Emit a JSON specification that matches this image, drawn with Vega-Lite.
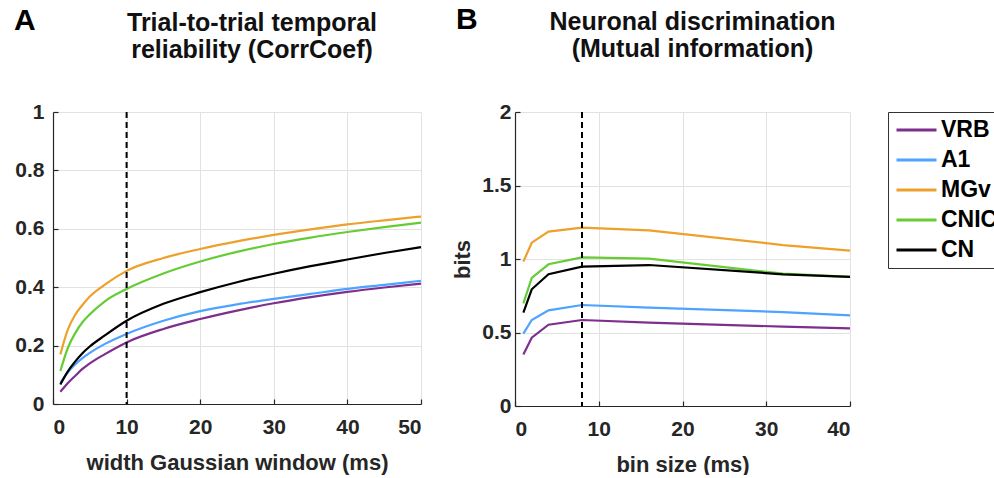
{
  "$schema": "https://vega.github.io/schema/vega-lite/v6.json",
  "background": "white",
  "padding": {"left": 13, "top": 4, "right": 0, "bottom": 0},
  "spacing": 25,
  "datasets": {
    "corr": [
      {"region": "VRB", "x": 1, "y": 0.042}, {"region": "VRB", "x": 2, "y": 0.071}, {"region": "VRB", "x": 3, "y": 0.096}, {"region": "VRB", "x": 4, "y": 0.12}, {"region": "VRB", "x": 5, "y": 0.139}, {"region": "VRB", "x": 7, "y": 0.17}, {"region": "VRB", "x": 10, "y": 0.211}, {"region": "VRB", "x": 15, "y": 0.257}, {"region": "VRB", "x": 20, "y": 0.291}, {"region": "VRB", "x": 25, "y": 0.32}, {"region": "VRB", "x": 30, "y": 0.345}, {"region": "VRB", "x": 35, "y": 0.366}, {"region": "VRB", "x": 40, "y": 0.384}, {"region": "VRB", "x": 45, "y": 0.399}, {"region": "VRB", "x": 50, "y": 0.412},
      {"region": "A1", "x": 1, "y": 0.072}, {"region": "A1", "x": 2, "y": 0.108}, {"region": "A1", "x": 3, "y": 0.135}, {"region": "A1", "x": 4, "y": 0.157}, {"region": "A1", "x": 5, "y": 0.175}, {"region": "A1", "x": 7, "y": 0.205}, {"region": "A1", "x": 10, "y": 0.24}, {"region": "A1", "x": 15, "y": 0.285}, {"region": "A1", "x": 20, "y": 0.318}, {"region": "A1", "x": 25, "y": 0.341}, {"region": "A1", "x": 30, "y": 0.36}, {"region": "A1", "x": 35, "y": 0.377}, {"region": "A1", "x": 40, "y": 0.394}, {"region": "A1", "x": 45, "y": 0.408}, {"region": "A1", "x": 50, "y": 0.422},
      {"region": "MGv", "x": 1, "y": 0.17}, {"region": "MGv", "x": 2, "y": 0.254}, {"region": "MGv", "x": 3, "y": 0.305}, {"region": "MGv", "x": 4, "y": 0.339}, {"region": "MGv", "x": 5, "y": 0.368}, {"region": "MGv", "x": 7, "y": 0.408}, {"region": "MGv", "x": 10, "y": 0.456}, {"region": "MGv", "x": 15, "y": 0.5}, {"region": "MGv", "x": 20, "y": 0.531}, {"region": "MGv", "x": 25, "y": 0.557}, {"region": "MGv", "x": 30, "y": 0.579}, {"region": "MGv", "x": 35, "y": 0.598}, {"region": "MGv", "x": 40, "y": 0.615}, {"region": "MGv", "x": 45, "y": 0.629}, {"region": "MGv", "x": 50, "y": 0.642},
      {"region": "CNIC", "x": 1, "y": 0.113}, {"region": "CNIC", "x": 2, "y": 0.191}, {"region": "CNIC", "x": 3, "y": 0.242}, {"region": "CNIC", "x": 4, "y": 0.28}, {"region": "CNIC", "x": 5, "y": 0.307}, {"region": "CNIC", "x": 7, "y": 0.351}, {"region": "CNIC", "x": 10, "y": 0.394}, {"region": "CNIC", "x": 15, "y": 0.447}, {"region": "CNIC", "x": 20, "y": 0.488}, {"region": "CNIC", "x": 25, "y": 0.521}, {"region": "CNIC", "x": 30, "y": 0.548}, {"region": "CNIC", "x": 35, "y": 0.57}, {"region": "CNIC", "x": 40, "y": 0.589}, {"region": "CNIC", "x": 45, "y": 0.606}, {"region": "CNIC", "x": 50, "y": 0.621},
      {"region": "CN", "x": 1, "y": 0.067}, {"region": "CN", "x": 2, "y": 0.111}, {"region": "CN", "x": 3, "y": 0.145}, {"region": "CN", "x": 4, "y": 0.174}, {"region": "CN", "x": 5, "y": 0.197}, {"region": "CN", "x": 7, "y": 0.234}, {"region": "CN", "x": 10, "y": 0.285}, {"region": "CN", "x": 15, "y": 0.343}, {"region": "CN", "x": 20, "y": 0.383}, {"region": "CN", "x": 25, "y": 0.417}, {"region": "CN", "x": 30, "y": 0.446}, {"region": "CN", "x": 35, "y": 0.472}, {"region": "CN", "x": 40, "y": 0.495}, {"region": "CN", "x": 45, "y": 0.517}, {"region": "CN", "x": 50, "y": 0.537}
    ],
    "mi": [
      {"region": "VRB", "x": 1, "y": 0.351}, {"region": "VRB", "x": 2, "y": 0.465}, {"region": "VRB", "x": 4, "y": 0.553}, {"region": "VRB", "x": 8, "y": 0.585}, {"region": "VRB", "x": 16, "y": 0.567}, {"region": "VRB", "x": 32, "y": 0.54}, {"region": "VRB", "x": 40, "y": 0.528},
      {"region": "A1", "x": 1, "y": 0.492}, {"region": "A1", "x": 2, "y": 0.585}, {"region": "A1", "x": 4, "y": 0.651}, {"region": "A1", "x": 8, "y": 0.687}, {"region": "A1", "x": 16, "y": 0.669}, {"region": "A1", "x": 32, "y": 0.639}, {"region": "A1", "x": 40, "y": 0.617},
      {"region": "MGv", "x": 1, "y": 0.982}, {"region": "MGv", "x": 2, "y": 1.111}, {"region": "MGv", "x": 4, "y": 1.186}, {"region": "MGv", "x": 8, "y": 1.213}, {"region": "MGv", "x": 16, "y": 1.195}, {"region": "MGv", "x": 32, "y": 1.095}, {"region": "MGv", "x": 40, "y": 1.057},
      {"region": "CNIC", "x": 1, "y": 0.698}, {"region": "CNIC", "x": 2, "y": 0.871}, {"region": "CNIC", "x": 4, "y": 0.964}, {"region": "CNIC", "x": 8, "y": 1.011}, {"region": "CNIC", "x": 16, "y": 1.002}, {"region": "CNIC", "x": 32, "y": 0.9}, {"region": "CNIC", "x": 40, "y": 0.878},
      {"region": "CN", "x": 1, "y": 0.635}, {"region": "CN", "x": 2, "y": 0.794}, {"region": "CN", "x": 4, "y": 0.896}, {"region": "CN", "x": 8, "y": 0.948}, {"region": "CN", "x": 16, "y": 0.959}, {"region": "CN", "x": 32, "y": 0.896}, {"region": "CN", "x": 40, "y": 0.878}
    ]
  },
  "config": {
    "font": "Liberation Sans",
    "view": {"stroke": null},
    "axis": {
      "labelFont": "Liberation Sans", "labelFontSize": 21, "labelFontWeight": "bold", "labelColor": "#262626",
      "titleFont": "Liberation Sans", "titleFontSize": 22, "titleFontWeight": "bold", "titleColor": "#262626",
      "domainColor": "#262626", "domainWidth": 1.2, "tickColor": "#262626", "tickSize": -5, "tickWidth": 1.2,
      "gridColor": "#e2e2e2", "grid": true
    },
    "axisX": {"labelPadding": 17, "titlePadding": 15},
    "title": {"font": "Liberation Sans", "fontSize": 25, "fontWeight": "bold", "color": "#111111"}
  },
  "resolve": {"scale": {"color": "shared"}},
  "hconcat": [
    {
      "width": 368, "height": 292,
      "title": {"text": ["Trial-to-trial temporal", "reliability (CorrCoef)"], "anchor": "middle", "frame": "group", "offset": -57, "lineHeight": 27, "dx": 15},
      "layer": [
        {
          "data": {"name": "corr"},
          "mark": {"type": "line", "strokeWidth": 2.2, "interpolate": "monotone"},
          "encoding": {
            "x": {"field": "x", "type": "quantitative", "scale": {"domain": [0, 50], "nice": false}, "axis": {"title": "width Gaussian window (ms)", "values": [0, 10, 20, 30, 40, 50]}},
            "y": {"field": "y", "type": "quantitative", "scale": {"domain": [0, 1], "nice": false}, "axis": {"title": null, "values": [0, 0.2, 0.4, 0.6, 0.8, 1], "format": "~g", "labelPadding": 14}},
            "color": {"field": "region", "type": "nominal",
              "scale": {"domain": ["VRB", "A1", "MGv", "CNIC", "CN"], "range": ["#7E2F8E", "#4DA3FF", "#EDA02A", "#66CC33", "#000000"]},
              "legend": {"title": null, "orient": "right", "offset": 33, "symbolType": "stroke", "symbolStrokeWidth": 3, "symbolSize": 1600, "symbolOffset": 4, "labelFontSize": 23, "labelFontWeight": "bold", "labelColor": "#000000", "labelFont": "Liberation Sans", "strokeColor": "#333333", "fillColor": "white", "padding": 3, "clipHeight": 30, "rowPadding": 0, "labelOffset": 3}
            }
          }
        },
        {
          "data": {"values": [{"x": 10}]},
          "mark": {"type": "rule", "strokeDash": [6, 4], "strokeWidth": 2, "color": "#000000"},
          "encoding": {"x": {"field": "x", "type": "quantitative"}}
        },
        {
          "data": {"values": [{}]},
          "mark": {"type": "text", "fontSize": 30, "fontWeight": "bold", "align": "left", "baseline": "middle", "color": "#000000"},
          "encoding": {"x": {"datum": -5.3}, "y": {"datum": 1.3116}, "text": {"value": "A"}}
        }
      ]
    },
    {
      "width": 335, "height": 294,
      "title": {"text": ["Neuronal discrimination", "(Mutual information)"], "anchor": "middle", "frame": "group", "offset": -57, "lineHeight": 27, "dx": 10},
      "layer": [
        {
          "data": {"name": "mi"},
          "mark": {"type": "line", "strokeWidth": 2.2},
          "encoding": {
            "x": {"field": "x", "type": "quantitative", "scale": {"domain": [0, 40], "nice": false}, "axis": {"title": "bin size (ms)", "values": [0, 10, 20, 30, 40]}},
            "y": {"field": "y", "type": "quantitative", "scale": {"domain": [0, 2], "nice": false}, "axis": {"title": "bits", "values": [0, 0.5, 1, 1.5, 2], "format": "~g", "labelPadding": 9, "titlePadding": 7}},
            "color": {"field": "region", "type": "nominal"}
          }
        },
        {
          "data": {"values": [{"x": 8}]},
          "mark": {"type": "rule", "strokeDash": [6, 4], "strokeWidth": 2, "color": "#000000"},
          "encoding": {"x": {"field": "x", "type": "quantitative"}}
        },
        {
          "data": {"values": [{}]},
          "mark": {"type": "text", "fontSize": 30, "fontWeight": "bold", "align": "left", "baseline": "middle", "color": "#000000"},
          "encoding": {"x": {"datum": -7.04}, "y": {"datum": 2.626}, "text": {"value": "B"}}
        }
      ]
    }
  ]
}
